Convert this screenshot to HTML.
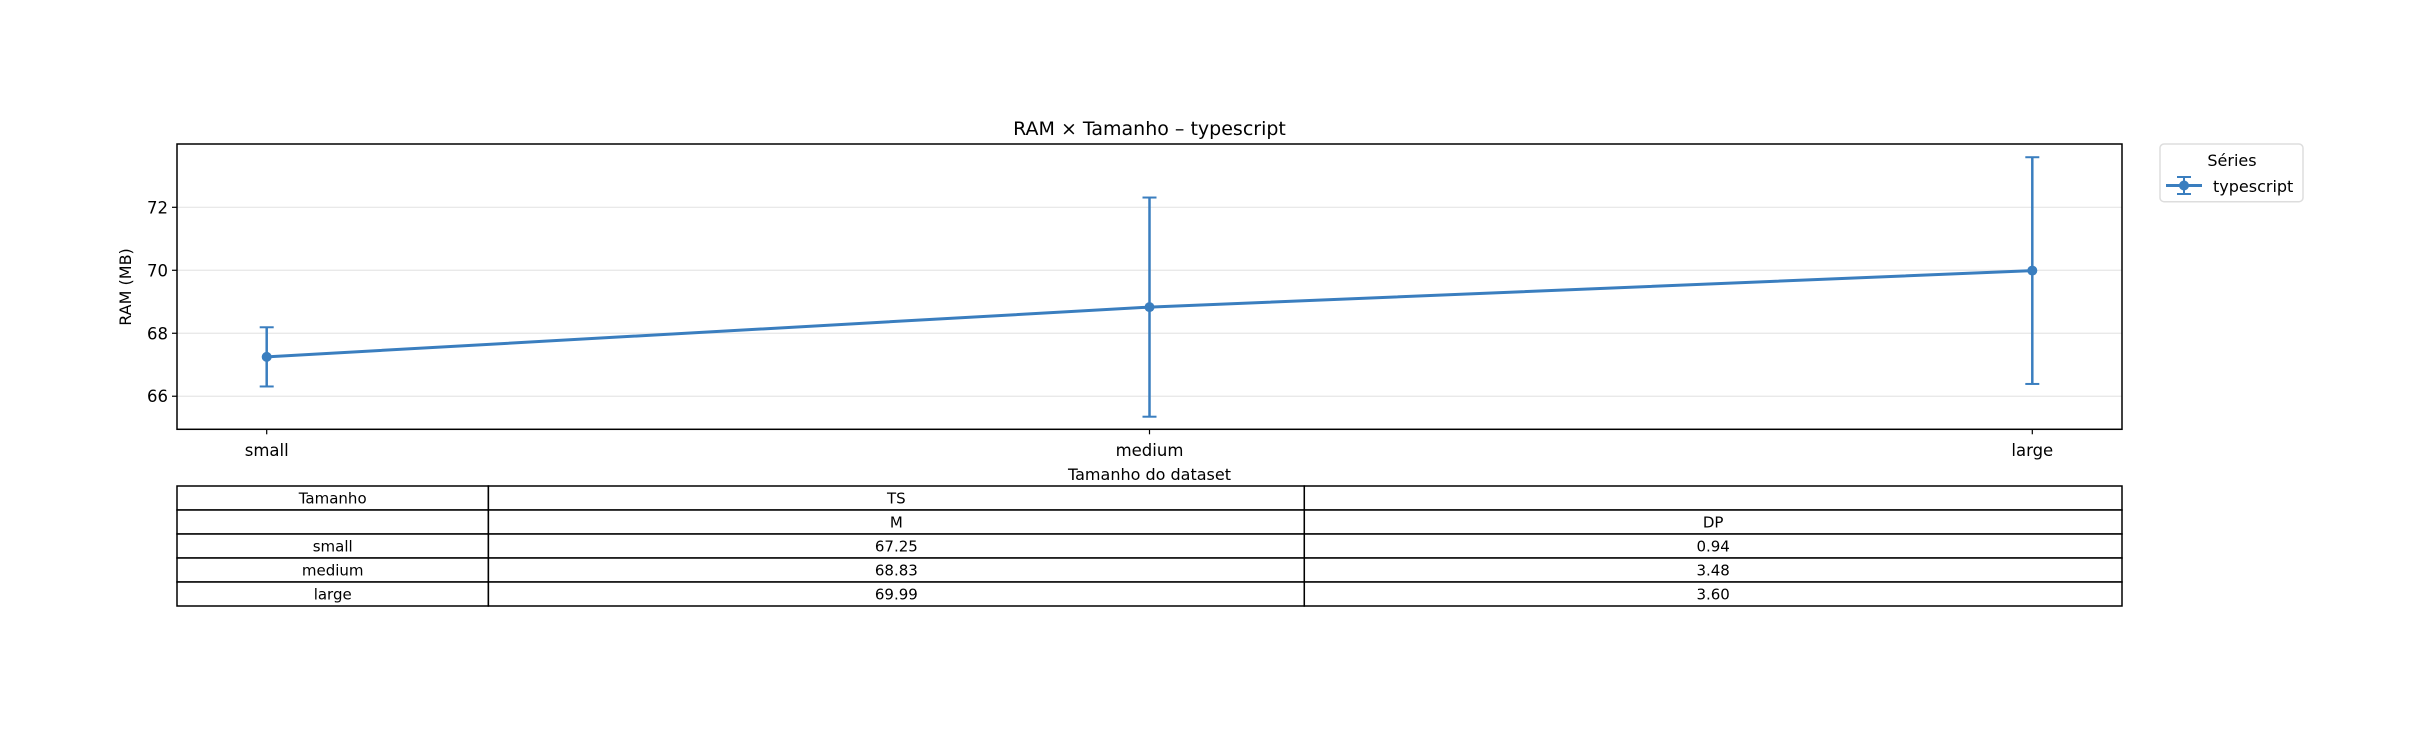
<!DOCTYPE html>
<html><head><meta charset="utf-8"><style>
body{margin:0;background:#fff}
svg text{font-family:"DejaVu Sans","Liberation Sans",sans-serif;fill:#000}
</style></head><body>
<svg id="chart" width="2423" height="726" xmlns="http://www.w3.org/2000/svg">
<rect width="2423" height="726" fill="#fff"/>
<text x="1149.5" y="135" font-size="19" text-anchor="middle">RAM × Tamanho – typescript</text>
<g id="grid"></g>
<g id="yticks"></g>
<g id="xticks"></g>
<g id="series"></g>
<rect x="177" y="144" width="1945" height="285.3" fill="none" stroke="#000" stroke-width="1.5"/>
<text transform="translate(131,287) rotate(-90)" font-size="16" text-anchor="middle">RAM (MB)</text>
<text x="1149.5" y="480" font-size="16" text-anchor="middle">Tamanho do dataset</text>
<g>
<rect x="2160" y="144" width="143" height="57.7" rx="4" fill="#fff" stroke="#ddd" stroke-width="1.5"/>
<text x="2232" y="166" font-size="16" text-anchor="middle">Séries</text>
<g>
<line x1="2166" y1="185.5" x2="2202" y2="185.5" stroke="#3a7ebf" stroke-width="3"/>
<line x1="2184" y1="177" x2="2184" y2="194" stroke="#3a7ebf" stroke-width="2"/>
<line x1="2177" y1="177" x2="2191" y2="177" stroke="#3a7ebf" stroke-width="2"/>
<line x1="2177" y1="194" x2="2191" y2="194" stroke="#3a7ebf" stroke-width="2"/>
<circle cx="2184" cy="185.5" r="5" fill="#3a7ebf"/>
<text x="2213" y="192" font-size="16">typescript</text>
</g>
</g>
<g id="table"></g>
</svg>
<script>
const categories=["small","medium","large"];
const means=[67.25,68.83,69.99];
const stds=[0.94,3.48,3.60];
const yTicks=[66,68,70,72];
const NS="http://www.w3.org/2000/svg";
const L=177,R=2122,T=144,B=429.3,yMin=64.95,yMax=74.01;
function xs(i){const pad=89.7;return L+pad+i*(R-L-2*pad)/(categories.length-1);}
function ys(v){return B-(v-yMin)/(yMax-yMin)*(B-T);}
function mk(tag,attrs,parent){const e=document.createElementNS(NS,tag);for(const k in attrs)e.setAttribute(k,attrs[k]);parent.appendChild(e);return e;}
const grid=document.getElementById('grid'),yt=document.getElementById('yticks'),xt=document.getElementById('xticks'),ser=document.getElementById('series');
yTicks.forEach(v=>{
 const g=mk('line',{x1:L,x2:R,y1:ys(v),y2:ys(v),stroke:'#e6e6e6','stroke-width':1.2},grid);
 
 
 mk('line',{x1:L-5,x2:L,y1:ys(v),y2:ys(v),stroke:'#000','stroke-width':1.2},yt);
 const t=mk('text',{x:L-9,y:ys(v)+6,'font-size':16.5,'text-anchor':'end'},yt);t.textContent=v;
 
 
});
categories.forEach((c,i)=>{
 mk('line',{x1:xs(i),x2:xs(i),y1:B,y2:B+5,stroke:'#000','stroke-width':1.2},xt);
 const t=mk('text',{x:xs(i),y:456,'font-size':16.5,'text-anchor':'middle'},xt);t.textContent=c;
 
 
});
const pts=means.map((m,i)=>xs(i)+','+ys(m)).join(' ');
const pl=mk('polyline',{points:pts,fill:'none',stroke:'#3a7ebf','stroke-width':3},ser);


means.forEach((m,i)=>{
 const x=xs(i),y1=ys(m+stds[i]),y2=ys(m-stds[i]);
 const g=mk('g',{},ser);
 
 
 mk('line',{x1:x,x2:x,y1:y1,y2:y2,stroke:'#3a7ebf','stroke-width':2.5},g);
 mk('line',{x1:x-7,x2:x+7,y1:y1,y2:y1,stroke:'#3a7ebf','stroke-width':2},g);
 mk('line',{x1:x-7,x2:x+7,y1:y2,y2:y2,stroke:'#3a7ebf','stroke-width':2},g);
 const c=mk('circle',{cx:x,cy:ys(m),r:5,fill:'#3a7ebf'},ser);
 
 
});
// table
const tb=document.getElementById('table');
const cols=[177,488.4,1304.3,2122],rowsY=[486,510,534,558,582,606];
const cells=[["Tamanho","TS",""],["","M","DP"]];
categories.forEach((c,i)=>cells.push([c,means[i].toFixed(2),stds[i].toFixed(2)]));
cells.forEach((row,r)=>{
 row.forEach((txt,ci)=>{
  const rc=mk('rect',{x:cols[ci],y:rowsY[r],width:cols[ci+1]-cols[ci],height:rowsY[r+1]-rowsY[r],fill:'#fff',stroke:'#000','stroke-width':1.5},tb);
  
  
  if(txt){const t=mk('text',{x:(cols[ci]+cols[ci+1])/2,y:rowsY[r]+17.5,'font-size':15,'text-anchor':'middle'},tb);t.textContent=txt;
  
  }
 });
});
</script>
</body></html>
